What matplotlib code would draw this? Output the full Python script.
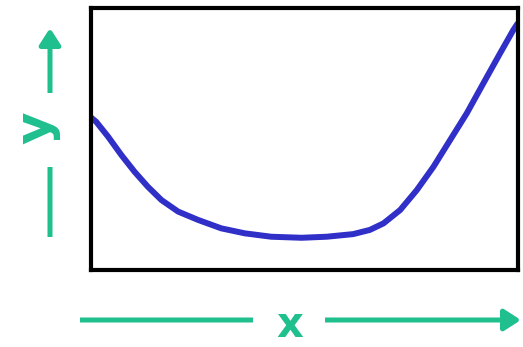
import matplotlib
matplotlib.use("Agg")
import matplotlib.pyplot as plt
from matplotlib.patches import FancyArrowPatch

# curve (axes run 0..10 on both sides)
curve_x = [0.0, 0.12, 0.40, 0.71, 1.02, 1.33, 1.65, 2.04, 2.51, 3.05, 3.60, 4.22, 4.93,
           5.52, 6.14, 6.53, 6.85, 7.24, 7.63, 8.02, 8.41, 8.80, 9.19, 9.58, 9.89, 10.0]
curve_y = [5.82, 5.66, 5.09, 4.39, 3.75, 3.18, 2.67, 2.23, 1.91, 1.59, 1.40, 1.27, 1.23,
           1.27, 1.37, 1.53, 1.78, 2.29, 3.05, 3.94, 4.96, 5.98, 7.13, 8.27, 9.16, 9.43]

green = "#1fbf8e"
blue = "#3030c8"

W, H = 523, 347
fig = plt.figure(figsize=(W / 100, H / 100), dpi=100)

# plot box in pixel terms
left, right, top, bottom = 91, 518, 8, 270
ax = fig.add_axes([left / W, (H - bottom) / H, (right - left) / W, (bottom - top) / H])
ax.plot(curve_x, curve_y, color=blue, lw=4.3, solid_capstyle="butt", solid_joinstyle="round")
ax.set_xlim(0, 10)
ax.set_ylim(0, 10)
ax.set_xticks([])
ax.set_yticks([])
for s in ax.spines.values():
    s.set_linewidth(3.0)
    s.set_color("black")

# axis arrows, drawn in figure pixels
def arrow(x0, y0, x1, y1, head=True):
    style = "-|>,head_length=0.5,head_width=0.32" if head else "-"
    fig.add_artist(FancyArrowPatch(
        (x0 / W, y0 / H), (x1 / W, y1 / H), transform=fig.transFigure,
        arrowstyle=style, mutation_scale=20, lw=3.6, color=green,
        shrinkA=0, shrinkB=0, capstyle="butt"))

# y arrow (vertical), pixel y measured from bottom
arrow(50, H - 93, 50, H - 28)
arrow(50, H - 237, 50, H - 167, head=False)
# x arrow (horizontal)
arrow(80, H - 320, 253, H - 320, head=False)
arrow(325, H - 320, 521, H - 320)

fig.text(290 / W, (H - 325) / H, "x", color=green, fontsize=30, fontweight="bold",
         ha="center", va="center")
fig.text(36 / W, (H - 128) / H, "y", color=green, fontsize=36, fontweight="bold",
         ha="center", va="center", rotation=90)

fig.savefig("out.png", dpi=100)
